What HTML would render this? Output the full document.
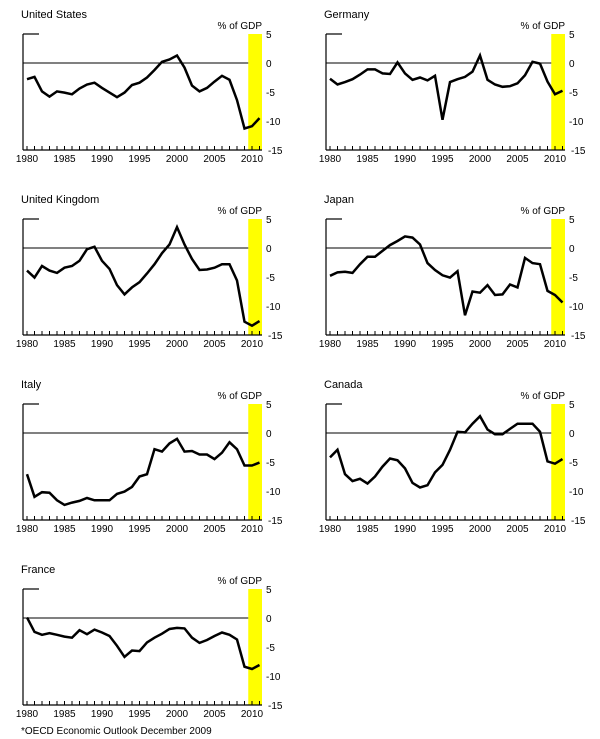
<!DOCTYPE html>
<html><head><meta charset="utf-8"><style>
body{margin:0;background:#fff;}
svg{display:block;font-family:"Liberation Sans",Arial,sans-serif;}
</style></head><body>
<svg id="chart" width="600" height="739" viewBox="0 0 600 739"></svg>
<script>
const years = [1980,1981,1982,1983,1984,1985,1986,1987,1988,1989,1990,1991,1992,1993,1994,1995,1996,1997,1998,1999,2000,2001,2002,2003,2004,2005,2006,2007,2008,2009,2010,2011];
const yTicks = [5,0,-5,-10,-15];
const xTickLabels = [1980,1985,1990,1995,2000,2005,2010];
const countries = ["United States","Germany","United Kingdom","Japan","Italy","Canada","France"];
const usValues = [-2.8,-2.4,-4.9,-5.8,-4.9,-5.1,-5.4,-4.4,-3.7,-3.4,-4.3,-5.1,-5.9,-5.1,-3.8,-3.4,-2.5,-1.2,0.2,0.6,1.3,-0.8,-3.9,-4.9,-4.3,-3.2,-2.2,-2.9,-6.4,-11.3,-10.9,-9.5];
const deValues = [-2.7,-3.7,-3.3,-2.8,-2.0,-1.1,-1.1,-1.8,-1.9,0.1,-1.8,-2.9,-2.5,-3.0,-2.2,-9.8,-3.3,-2.8,-2.4,-1.5,1.3,-2.9,-3.7,-4.1,-4.0,-3.5,-2.1,0.2,-0.1,-3.2,-5.4,-4.8];
const ukValues = [-3.9,-5.1,-3.1,-3.9,-4.3,-3.4,-3.1,-2.2,-0.2,0.2,-2.2,-3.6,-6.4,-8.0,-6.8,-5.9,-4.4,-2.8,-0.9,0.6,3.6,0.6,-1.9,-3.8,-3.7,-3.4,-2.8,-2.8,-5.6,-12.7,-13.4,-12.6];
const jpValues = [-4.8,-4.2,-4.1,-4.3,-2.8,-1.5,-1.5,-0.5,0.5,1.2,2.0,1.8,0.6,-2.6,-3.8,-4.7,-5.1,-4.0,-11.6,-7.5,-7.7,-6.4,-8.1,-8.0,-6.3,-6.8,-1.7,-2.6,-2.8,-7.4,-8.1,-9.4];
const itValues = [-7.1,-11.0,-10.2,-10.3,-11.6,-12.4,-12.0,-11.7,-11.2,-11.6,-11.6,-11.6,-10.5,-10.1,-9.3,-7.5,-7.1,-2.8,-3.2,-1.8,-1.0,-3.2,-3.1,-3.7,-3.7,-4.5,-3.4,-1.6,-2.8,-5.6,-5.6,-5.1];
const caValues = [-4.2,-2.9,-7.1,-8.3,-7.9,-8.7,-7.5,-5.8,-4.4,-4.7,-6.1,-8.6,-9.4,-9.0,-6.8,-5.5,-2.9,0.2,0.1,1.6,2.9,0.6,-0.2,-0.2,0.7,1.6,1.6,1.6,0.2,-4.9,-5.3,-4.5];
const frValues = [0.1,-2.4,-2.9,-2.6,-2.9,-3.2,-3.4,-2.1,-2.8,-2.0,-2.5,-3.1,-4.8,-6.7,-5.6,-5.7,-4.2,-3.4,-2.7,-1.9,-1.7,-1.8,-3.4,-4.3,-3.8,-3.1,-2.5,-2.9,-3.7,-8.4,-8.8,-8.1];
const seriesList = [usValues,deValues,ukValues,jpValues,itValues,caValues,frValues];

const NS="http://www.w3.org/2000/svg";
const svg=document.getElementById('chart');
function mk(tag,attrs,parent){const e=document.createElementNS(NS,tag);for(const k in attrs)e.setAttribute(k,attrs[k]);(parent||svg).appendChild(e);return e;}

countries.forEach((name,i)=>{
  const col=i%2, row=Math.floor(i/2);
  const ox=col*303, top=34+row*185;
  const g=mk('g',{});
  
  
  const L=ox+23, R=ox+262, B=top+116;
  const xs=yr=>ox+27+(yr-1980)*7.5;
  const ys=v=>top+(5-v)*5.8;
  const band=mk('rect',{x:xs(2009.5),y:top,width:R-xs(2009.5),height:B-top,fill:'#ffff00'},g);
  
  
  const z=mk('line',{x1:L,x2:xs(2009.5),y1:ys(0),y2:ys(0),stroke:'#000','stroke-width':1},g);
  
  
  mk('line',{x1:L,x2:L,y1:top,y2:B,stroke:'#000','stroke-width':1.2},g);
  mk('line',{x1:L,x2:L+16,y1:top,y2:top,stroke:'#000','stroke-width':1.2},g);
  const xa=mk('line',{x1:L,x2:R,y1:B,y2:B,stroke:'#000','stroke-width':1.2},g);
  
  
  years.forEach(yr=>{mk('line',{x1:xs(yr),x2:xs(yr),y1:B,y2:B-4,stroke:'#000','stroke-width':1},g);});
  xTickLabels.forEach(yr=>{
    const t=mk('text',{x:xs(yr),y:B+12,'font-size':10,'text-anchor':'middle'},g);
    t.textContent=yr;
    
    
  });
  yTicks.forEach(v=>{
    const t=mk('text',{x:ox+(v===-15?268:266),y:ys(v)+4,'font-size':10},g);
    t.textContent=v;
    
    
  });
  const u=mk('text',{x:R,y:top-5,'font-size':10,'text-anchor':'end'},g);
  u.textContent='% of GDP';
  
  
  const ti=mk('text',{x:ox+21,y:top-16,'font-size':11},g);
  ti.textContent=name;
  
  
  const vals=seriesList[i];
  const p=mk('polyline',{points:vals.map((v,k)=>xs(years[k]).toFixed(1)+','+ys(v).toFixed(1)).join(' '),fill:'none',stroke:'#000','stroke-width':2.5,'stroke-linejoin':'miter'},g);
  
  
});
const f=mk('text',{x:21,y:734,'font-size':10});
f.textContent='*OECD Economic Outlook December 2009';


</script>
</body></html>
